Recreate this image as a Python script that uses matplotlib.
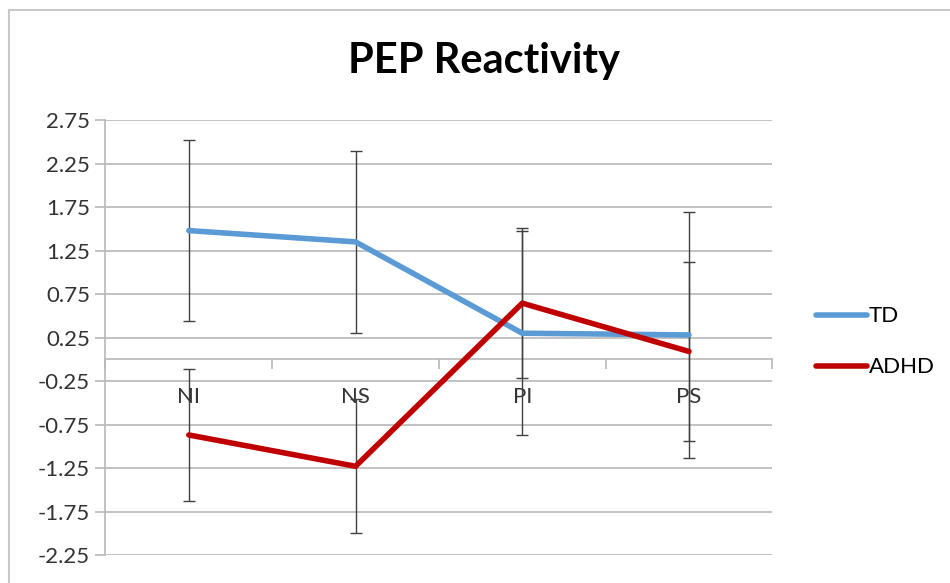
import matplotlib
matplotlib.use("Agg")
import matplotlib.pyplot as plt
from matplotlib.lines import Line2D
import numpy as np

plt.rcParams['font.family'] = ['Lato', 'DejaVu Sans']

categories = ['NI', 'NS', 'PI', 'PS']
td = [1.48, 1.35, 0.30, 0.28]
td_err = [1.04, 1.05, 1.17, 1.41]
adhd = [-0.87, -1.23, 0.645, 0.09]
adhd_err = [0.76, 0.77, 0.86, 1.03]
yticks = [-2.25, -1.75, -1.25, -0.75, -0.25, 0.25, 0.75, 1.25, 1.75, 2.25, 2.75]

fig = plt.figure(figsize=(9.5, 5.83), dpi=100)
ax = fig.add_axes([0.111, 0.048, 0.702, 0.746])

x = np.arange(len(categories))
grey = '#b8b8b8'
txt = '#333333'

ax.errorbar(x, td, yerr=td_err, fmt='none', ecolor='#404040', elinewidth=1.0, capsize=4, capthick=1.0, zorder=3)
ax.errorbar(x, adhd, yerr=adhd_err, fmt='none', ecolor='#404040', elinewidth=1.0, capsize=4, capthick=1.0, zorder=3)
ax.plot(x, td, color='#5b9bd5', lw=4.0, label='TD', zorder=4, solid_capstyle='round')
ax.plot(x, adhd, color='#c00000', lw=4.0, label='ADHD', zorder=4, solid_capstyle='round')

ax.set_xlim(-0.5, 3.5)
ax.set_ylim(-2.25, 2.75)
ax.set_yticks(yticks)
ax.set_yticklabels(['{:.2f}'.format(v) for v in yticks], fontsize=16, color=txt)
ax.yaxis.grid(True, color=grey, lw=1.2)
ax.set_axisbelow(True)
ax.tick_params(axis='y', length=7, color=grey, width=1.2, pad=4)

# category axis sits on zero
ax.spines['bottom'].set_position(('data', 0))
ax.spines['bottom'].set_color(grey)
ax.spines['bottom'].set_linewidth(1.2)
ax.spines['left'].set_color(grey)
ax.spines['left'].set_linewidth(1.2)
ax.spines['top'].set_visible(False)
ax.spines['right'].set_visible(False)
ax.set_xticks(x)
ax.set_xticklabels(categories, fontsize=16, color=txt)
ax.set_xticks(np.arange(-0.5, 4.0, 1.0), minor=True)
ax.tick_params(axis='x', which='major', length=0, pad=20)
ax.tick_params(axis='x', which='minor', length=7, color=grey, width=1.2, direction='out')

fig.text(0.509, 0.895, 'PEP Reactivity', ha='center', va='center', fontsize=30, fontweight='bold')

ax.legend(loc='center left', bbox_to_anchor=(1.035, 0.49), frameon=False, fontsize=16,
          handlelength=2.3, handletextpad=0.1, labelspacing=1.4)

# chart area border (left and top edges visible)
fig.add_artist(Line2D([0.0095, 0.0095], [0.0, 0.983], transform=fig.transFigure, color='#c8c8c8', lw=1.5))
fig.add_artist(Line2D([0.0095, 1.0], [0.983, 0.983], transform=fig.transFigure, color='#c8c8c8', lw=1.5))

fig.savefig('out.png', dpi=100)
